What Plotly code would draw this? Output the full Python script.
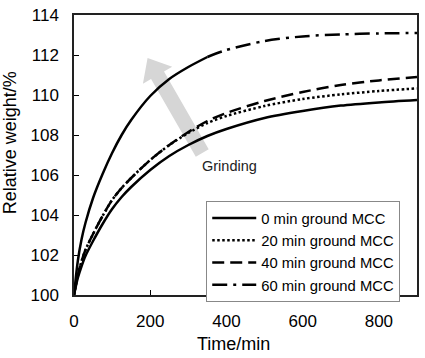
import plotly.graph_objects as go

# ---- data ----
time_min = [0, 10, 20, 30, 50, 75, 100, 125, 150, 200, 250, 300, 350, 400, 500, 600, 700, 800, 900]
w_0min = [100, 100.85, 101.45, 101.95, 102.7, 103.55, 104.3, 104.9, 105.4, 106.25, 106.95, 107.5, 107.95, 108.3, 108.85, 109.2, 109.47, 109.63, 109.75]
w_20min = [100, 101.0, 101.7, 102.25, 103.05, 103.95, 104.75, 105.35, 105.85, 106.75, 107.5, 108.1, 108.6, 108.95, 109.45, 109.8, 110.03, 110.2, 110.33]
w_40min = [100, 101.0, 101.7, 102.25, 103.05, 103.95, 104.75, 105.35, 105.85, 106.75, 107.5, 108.15, 108.7, 109.1, 109.7, 110.15, 110.5, 110.73, 110.9]
w_60min = [100, 101.7, 102.8, 103.6, 104.85, 106.05, 107.1, 108.0, 108.75, 109.95, 110.8, 111.4, 111.9, 112.25, 112.7, 112.93, 113.03, 113.08, 113.1]
series_names = ["0 min ground MCC", "20 min ground MCC", "40 min ground MCC", "60 min ground MCC"]
x_ticks = [0, 200, 400, 600, 800]
y_ticks = [100, 102, 104, 106, 108, 110, 112, 114]
x_title = "Time/min"
y_title = "Relative weight/%"

# ---- layout constants ----
W, H = 425, 358
ML, MR, MT, MB = 74, 6, 15, 63
PW, PH = W - ML - MR, H - MT - MB
FONT = "Liberation Sans, Arial, sans-serif"
LW = 2.5

fig = go.Figure()

def add_line(xs, ys, name, dash, showlegend=True):
    fig.add_trace(go.Scatter(
        x=xs, y=ys, name=name, mode="lines", showlegend=showlegend,
        line=dict(color="black", width=LW, dash=dash, shape="spline", smoothing=0.8),
    ))

add_line(time_min, w_0min, series_names[0], "solid")
add_line(time_min, w_20min, series_names[1], "2.5px,2.5px")
add_line(time_min, w_40min, series_names[2], "12px,6px")
# 60 min: early part appears continuous in the original, dash-dot later on
split = time_min.index(350)
add_line(time_min[:split + 1], w_60min[:split + 1], series_names[3], "solid", showlegend=False)
add_line(time_min[split:], w_60min[split:], series_names[3], "15px,6px,3px,6px")

# grey arrow (decoration) built in pixel space -> paper coords
def px2paper(px, py):
    return (px - ML) / PW, (H - MB - py) / PH

tip = (148.0, 58.0)
tail = (203.0, 153.0)
dx, dy = tip[0] - tail[0], tip[1] - tail[1]
L = (dx * dx + dy * dy) ** 0.5
u = (dx / L, dy / L)
n = (-u[1], u[0])
hl, hw, bw = 20.0, 17.0, 7.5
base = (tip[0] - u[0] * hl, tip[1] - u[1] * hl)
pts = [
    (tail[0] + n[0] * bw, tail[1] + n[1] * bw),
    (base[0] + n[0] * bw, base[1] + n[1] * bw),
    (base[0] + n[0] * hw, base[1] + n[1] * hw),
    tip,
    (base[0] - n[0] * hw, base[1] - n[1] * hw),
    (base[0] - n[0] * bw, base[1] - n[1] * bw),
    (tail[0] - n[0] * bw, tail[1] - n[1] * bw),
]
pp = [px2paper(*p) for p in pts]
path = "M " + " L ".join(f"{a:.4f},{b:.4f}" for a, b in pp) + " Z"
fig.add_shape(type="path", path=path, xref="paper", yref="paper",
              fillcolor="#d6d6d6", line=dict(width=0), layer="below")

gx, gy = px2paper(230, 166)
fig.add_annotation(text="Grinding", x=gx, y=gy, xref="paper", yref="paper",
                   xanchor="center", yanchor="middle",
                   showarrow=False, font=dict(family=FONT, size=14.5, color="#222"))

# axis titles (placed like the original, slightly off-centre)
tx, ty = px2paper(234.5, 344)
fig.add_annotation(text=x_title, x=tx, y=ty, xref="paper", yref="paper",
                   xanchor="center", yanchor="middle",
                   showarrow=False, font=dict(family=FONT, size=18, color="black"))
yx, yy = px2paper(10, 143)
fig.add_annotation(text=y_title, x=yx, y=yy, xref="paper", yref="paper", textangle=-90,
                   xanchor="center", yanchor="middle",
                   showarrow=False, font=dict(family=FONT, size=18, color="black"))

lx, ly = px2paper(207, 201)
fig.update_layout(
    width=W, height=H,
    margin=dict(l=ML, r=MR, t=MT, b=MB, pad=0),
    paper_bgcolor="white", plot_bgcolor="white",
    font=dict(family=FONT, color="black"),
    showlegend=True,
    legend=dict(x=lx, y=ly, xanchor="left", yanchor="top",
                bgcolor="white", bordercolor="#888", borderwidth=1,
                font=dict(family=FONT, size=14.8, color="black"),
                tracegroupgap=0, itemwidth=44),
    xaxis=dict(range=[0, 900], tickvals=x_ticks, ticks="inside", ticklen=5, tickwidth=1.2,
               tickcolor="black", showline=True, linecolor="#222", linewidth=1.5, mirror=True,
               showgrid=False, zeroline=False, tickfont=dict(size=17, family=FONT),
               ticklabelstandoff=10),
    yaxis=dict(range=[100, 114], tickvals=y_ticks, ticks="inside", ticklen=5, tickwidth=1.2,
               tickcolor="black", showline=True, linecolor="#222", linewidth=1.5, mirror=True,
               showgrid=False, zeroline=False, tickfont=dict(size=17, family=FONT),
               ticklabelstandoff=10),
)

fig.write_html("out.html")
